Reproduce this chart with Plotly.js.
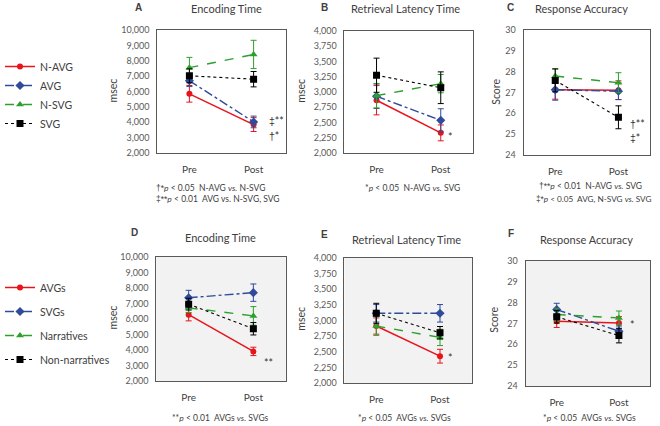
<!DOCTYPE html>
<html>
<head>
<meta charset="utf-8">
<script src="https://cdn.plot.ly/plotly-3.0.1.min.js"></script>
<style>
  html, body { margin: 0; padding: 0; background: #fff; }
  #chart { width: 660px; height: 426px; }
</style>
</head>
<body>
<div id="chart"></div>
<script>
const phases = ["Pre", "Post"];
const seriesTop = ["N-AVG", "AVG", "N-SVG", "SVG"];
const seriesBottom = ["AVGs", "SVGs", "Narratives", "Non-narratives"];

// top row: A encoding time, B retrieval latency, C accuracy (pre, post)
const encTopMean = [[5850, 3850], [6700, 4020], [7550, 8410], [7020, 6800]];
const encTopErr = [[540, 450], [380, 380], [670, 920], [450, 500]];
const latTopMean = [[2865, 2330], [2930, 2535], [2940, 3137], [3275, 3070]];
const latTopErr = [[240, 130], [200, 190], [200, 150], [280, 260]];
const accTopMean = [[27.13, 27.11], [27.13, 27.06], [27.79, 27.47], [27.58, 25.81]];
const accTopErr = [[0.45, 0.45], [0.5, 0.4], [0.35, 0.48], [0.55, 0.55]];

// bottom row: D encoding time, E retrieval latency, F accuracy
const encBotMean = [[6280, 3910], [7370, 7700], [6720, 6200], [6957, 5370]];
const encBotErr = [[400, 270], [480, 560], [300, 600], [380, 400]];
const latBotMean = [[2912, 2429], [3115, 3115], [2912, 2729], [3115, 2804]];
const latBotErr = [[130, 110], [140, 140], [150, 130], [160, 100]];
const accBotMean = [[27.11, 27.03], [27.67, 26.63], [27.43, 27.27], [27.32, 26.42]];
const accBotErr = [[0.3, 0.3], [0.3, 0.25], [0.3, 0.33], [0.3, 0.35]];

const W = 660, H = 426;
const FONT = "Lato, 'Open Sans', sans-serif";
const SYM = "'Liberation Sans', 'DejaVu Sans', sans-serif";
const px = x => x / W;
const py = y => 1 - y / H;

const styles = [
    { color: "#e8141b", dash: "solid", symbol: "circle", size: 6, width: 1.5 },
    { color: "#2f4b9a", dash: "dashdot", symbol: "diamond", size: 7, width: 1.4 },
    { color: "#2ca02c", dash: "dash", symbol: "triangle-up", size: 7, width: 1.4 },
    { color: "#000000", dash: "dot", symbol: "square", size: 7, width: 1.1 }
];

const traces = [];
function addPanel(names, means, errs, axisNum, legendName) {
    names.forEach(function(name, i) {
        const s = styles[i];
        traces.push({
            x: phases,
            y: means[i],
            name: name,
            mode: "lines+markers",
            xaxis: "x" + (axisNum === 1 ? "" : axisNum),
            yaxis: "y" + (axisNum === 1 ? "" : axisNum),
            line: { color: s.color, dash: s.dash, width: s.width },
            marker: { color: s.color, symbol: s.symbol, size: s.size },
            error_y: { type: "data", array: errs[i], visible: true, color: s.color, thickness: 1, width: 3 },
            showlegend: legendName !== null,
            legend: legendName || "legend",
            legendgroup: (legendName || "x") + i,
            hoverinfo: "skip"
        });
    });
}

addPanel(seriesTop, encTopMean, encTopErr, 1, "legend");
addPanel(seriesTop, latTopMean, latTopErr, 2, null);
addPanel(seriesTop, accTopMean, accTopErr, 3, null);
addPanel(seriesBottom, encBotMean, encBotErr, 4, "legend2");
addPanel(seriesBottom, latBotMean, latBotErr, 5, null);
addPanel(seriesBottom, accBotMean, accBotErr, 6, null);

// panel boxes in pixels: [left, right, top, bottom]
const boxes = [
    [155, 284, 30, 153],
    [343, 472, 31, 153],
    [523, 650, 30, 155],
    [154, 284, 257, 381],
    [343, 471, 258, 383],
    [525, 650, 261, 386]
];
const yRanges = [[2000, 10000], [2000, 4000], [24, 30], [2000, 10000], [2000, 4000], [24, 30]];
const yDticks = [1000, 250, 1, 1000, 250, 1];

const layout = {
    width: W,
    height: H,
    margin: { l: 0, r: 0, t: 0, b: 0 },
    paper_bgcolor: "#ffffff",
    plot_bgcolor: "rgba(0,0,0,0)",
    font: { family: FONT, color: "#404040" },
    legend: {
        x: -0.005, y: py(52), xanchor: "left", yanchor: "top",
        font: { family: FONT, size: 10.5, color: "#404040" },
        bgcolor: "rgba(0,0,0,0)", itemwidth: 30, tracegroupgap: 0
    },
    legend2: {
        x: -0.005, y: py(273), xanchor: "left", yanchor: "top",
        font: { family: FONT, size: 10.5, color: "#404040" },
        bgcolor: "rgba(0,0,0,0)", itemwidth: 30, tracegroupgap: 5
    },
    annotations: [],
    shapes: []
};

boxes.forEach(function(b, k) {
    const n = k === 0 ? "" : k + 1;
    layout["xaxis" + n] = {
        domain: [px(b[0]), px(b[1])],
        anchor: "y" + n,
        type: "category",
        range: [-0.5, 1.5],
        showgrid: false, zeroline: false,
        showline: true, mirror: true, linecolor: "#595959", linewidth: 1,
        ticks: "", ticklabelstandoff: 7,
        tickfont: { family: FONT, size: 10, color: "#404040" }
    };
    layout["yaxis" + n] = {
        domain: [py(b[3]), py(b[2])],
        anchor: "x" + n,
        range: yRanges[k],
        dtick: yDticks[k],
        tickformat: yRanges[k][1] > 100 ? ",d" : "d",
        showgrid: false, zeroline: false,
        showline: true, mirror: true, linecolor: "#595959", linewidth: 1,
        ticks: "", ticklabelstandoff: 5,
        tickfont: { family: FONT, size: 9, color: "#595959" }
    };
});

// grey background for bottom row
boxes.slice(3).forEach(function(b) {
    layout.shapes.push({
        type: "rect", xref: "paper", yref: "paper", layer: "below",
        x0: px(b[0]), x1: px(b[1]), y0: py(b[3]), y1: py(b[2]),
        fillcolor: "#f2f2f2", line: { width: 0 }
    });
});

function note(text, x, y, opts) {
    layout.annotations.push(Object.assign({
        text: text, x: px(x), y: py(y), xref: "paper", yref: "paper",
        showarrow: false, xanchor: "center", yanchor: "middle",
        font: { family: FONT, size: 10, color: "#404040" }
    }, opts || {}));
}

// panel letters and titles
const letters = [["A", 136, 7], ["B", 323, 7], ["C", 510, 7], ["D", 132, 232], ["E", 323, 234], ["F", 510, 233]];
letters.forEach(function(l) {
    note("<b>" + l[0] + "</b>", l[1], l[2], { font: { family: SYM, size: 10, color: "#404040" } });
});
const titles = [["Encoding Time", 225, 9], ["Retrieval Latency Time", 404, 9], ["Response Accuracy", 581, 9],
                ["Encoding Time", 218, 238], ["Retrieval Latency Time", 405, 239], ["Response Accuracy", 586, 239]];
titles.forEach(function(t) {
    note(t[0], t[1], t[2], { font: { family: FONT, size: 11, color: "#404040" } });
});

// y-axis titles
const yTitles = [["msec", 110, 91], ["msec", 299, 91], ["Score", 495, 92],
                 ["msec", 110, 318], ["msec", 299, 319], ["Score", 493, 320]];
yTitles.forEach(function(t) {
    note(t[0], t[1], t[2], { textangle: -90, font: { family: FONT, size: 10.5, color: "#404040" } });
});

// significance marks
const dag = s => "<span style='font-family:Liberation Sans'>" + s + "</span>";
const sig = () => ({ xanchor: "left", font: { family: FONT, size: 10.5, color: "#333333" } });
note(dag("‡") + "**", 265, 121, sig());
note(dag("†") + "*", 265, 136, sig());
note("*", 445, 137, sig());
note(dag("†") + "**", 628, 124, sig());
note(dag("‡") + "*", 628, 138, sig());
note("**", 260, 363, sig());
note("*", 445, 358, sig());
note("*", 628, 325, sig());

// footnotes
const foot = { xanchor: "left", font: { family: FONT, size: 8.5, color: "#404040" } };
note(dag("†*") + "<i>p</i> < 0.05  N-AVG <i>vs.</i> N-SVG", 152, 188, foot);
note(dag("‡**") + "<i>p</i> < 0.01  AVG vs. N-SVG, SVG", 152, 199, foot);
note("*<i>p</i> < 0.05  N-AVG <i>vs.</i> SVG", 362, 188, foot);
note(dag("†**") + "<i>p</i> < 0.01  N-AVG <i>vs.</i> SVG", 536, 186, foot);
note(dag("‡*") + "<i>p</i> < 0.05  AVG, N-SVG <i>vs.</i> SVG", 533, 199,
     { xanchor: "left", font: { family: FONT, size: 8.2, color: "#404040" } });
note("**<i>p</i> < 0.01  AVGs <i>vs.</i> SVGs", 168, 418, foot);
note("*<i>p</i> < 0.05  AVGs <i>vs.</i> SVGs", 355, 418, foot);
note("*<i>p</i> < 0.05  AVGs <i>vs.</i> SVGs", 540, 418, foot);

Plotly.newPlot("chart", traces, layout, { displayModeBar: false, staticPlot: true });
</script>
</body>
</html>
